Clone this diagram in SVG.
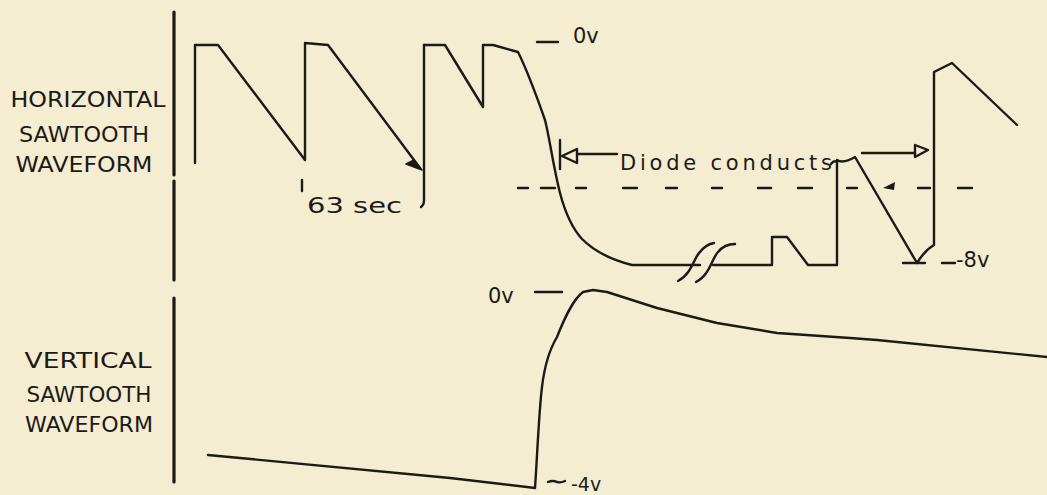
<svg xmlns="http://www.w3.org/2000/svg" width="1047" height="495" viewBox="0 0 1047 495">
<style>
.bg{fill:#f4edd2}
.w{fill:none;stroke:#1d1a16;stroke-width:2.4;stroke-linecap:round;stroke-linejoin:round}
.ax{fill:none;stroke:#1d1a16;stroke-width:3.2;stroke-linecap:round}
.t{font-family:"DejaVu Sans","Liberation Sans",sans-serif;fill:#1d1a16}
.lbl{font-size:22px;text-anchor:middle}
.v{font-size:21px}
.dash{fill:none;stroke:#1d1a16;stroke-width:2.4;stroke-linecap:round}
</style>
<rect class="bg" x="0" y="0" width="1047" height="495"/>

<g id="axis-horizontal">
<path class="ax" d="M174,12 L174,175 M174,181 L174,280"/>
</g>
<g id="axis-vertical">
<path class="ax" d="M174,298 L174,482"/>
</g>

<g id="label-horizontal">
<text class="t lbl" x="88" y="107" textLength="155" lengthAdjust="spacingAndGlyphs">HORIZONTAL</text>
<text class="t lbl" x="84" y="142" textLength="130" lengthAdjust="spacingAndGlyphs">SAWTOOTH</text>
<text class="t lbl" x="84" y="172" textLength="137" lengthAdjust="spacingAndGlyphs">WAVEFORM</text>
</g>

<g id="label-vertical">
<text class="t lbl" x="88" y="368" textLength="127" lengthAdjust="spacingAndGlyphs">VERTICAL</text>
<text class="t lbl" x="89" y="402" textLength="125" lengthAdjust="spacingAndGlyphs">SAWTOOTH</text>
<text class="t lbl" x="89" y="432" textLength="128" lengthAdjust="spacingAndGlyphs">WAVEFORM</text>
</g>

<g id="horizontal-waveform">
<path class="w" d="M195,163 L195,45 L218,45 L305,160 L305,43 L328,45 L420,168"/>
<path d="M406,164 L422,170 L414,160 Z" fill="#1d1a16" stroke="#1d1a16" stroke-width="1.5" stroke-linejoin="round"/>
<path class="w" d="M424,45 L424,200 Q424,205 421,207"/>
<path class="w" d="M424,45 L445,45 L483,107 L483,45 L493,45 L518,52 C528,72 538,100 545,120 C550,140 553,165 560,193 C565,212 572,228 582,239 C595,252 612,260 632,265 L700,265"/>
<path class="w" d="M678,281 C692,274 694,257 700,252 C704,247 708,244 714,243"/>
<path class="w" d="M696,282 C710,275 712,258 718,252 C722,247 728,244 735,244"/>
<path class="w" d="M713,265 L772,265 L772,237 L787,237 L808,265 L837,265 L837,160 Q843,164 855,157 L917,263 Q925,250 934,245 L934,72 Q942,68 952,63 L1017,125"/>
<path class="w" d="M903,263 L925,263"/>
</g>

<g id="vertical-waveform">
<path class="w" d="M208,455 L450,478 L535,488 C537,460 539,410 542,387 C544,370 548,352 557,337 C563,322 572,300 583,292 L593,290 L607,292 L657,308 L717,323 L777,333 L850,338 L877,340 L1047,357"/>
</g>

<g id="level-line">
<path class="dash" d="M518,188 h10 M541,188 h14 M576,188 h10 M623,188 h14 M666,188 h11 M712,188 h10 M758,188 h13 M798,188 h14 M847,188 h10 M918,188 h12 M958,188 h14"/>
<path d="M883,188 L895,182 L894,190 Z" fill="#1d1a16"/>
</g>

<g id="voltage-labels">
<path class="dash" d="M537,42 h21"/>
<text class="t v" x="573" y="43">0v</text>
<path class="dash" d="M942,263 h13"/>
<text class="t v" x="956" y="267">-8v</text>
<path class="dash" d="M535,292 h27"/>
<text class="t v" x="488" y="303">0v</text>
<path class="dash" d="M548,482 q5,-2 9,0 q4,1 8,-1"/>
<text class="t v" x="571" y="491" style="font-size:19px">-4v</text>
</g>

<g id="period-label">
<path class="dash" d="M302,180 L302,191"/>
<text class="t v" x="307" y="213" textLength="95" lengthAdjust="spacingAndGlyphs">63 sec</text>
</g>

<g id="diode-label">
<text class="t v" x="620" y="170" textLength="212" lengthAdjust="spacing">Diode conducts</text>
</g>

<g id="connectors">
<path class="w" d="M560,140 L560,169"/>
<path class="w" d="M562,156 L577,149 L577,163 Z"/>
<path class="w" d="M577,154 L617,154"/>
<path class="w" d="M862,153 L915,153"/>
<path class="w" d="M915,145 L928,150 L915,157 Z"/>
<path class="w" d="M831,164 Q834,160 837,162"/>
</g>
</svg>
